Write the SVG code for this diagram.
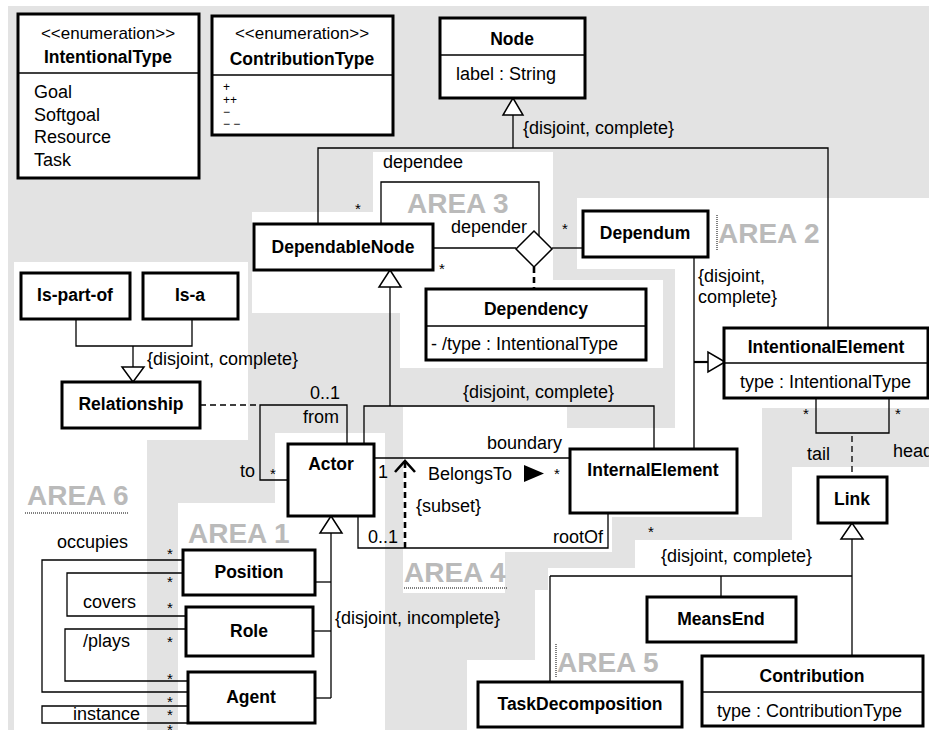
<svg xmlns="http://www.w3.org/2000/svg" width="929" height="730" viewBox="0 0 929 730">
<style>
text{font-family:"Liberation Sans",Arial,sans-serif;font-size:18px;fill:#000}
.b{font-weight:bold;font-size:17.5px}
.c{text-anchor:middle}
.st{font-size:15px;text-anchor:middle}
.area{font-weight:bold;font-size:28px;fill:#bababa}
.box{fill:#fff;stroke:#000;stroke-width:3}
.div{stroke:#000;stroke-width:1.3;fill:none}
.ln{stroke:#000;stroke-width:1.3;fill:none}
.dash{stroke:#000;stroke-width:1.3;fill:none;stroke-dasharray:6,4}
.tdash{stroke:#000;stroke-width:2.6;fill:none;stroke-dasharray:6,4}
.gen{fill:#fff;stroke:#000;stroke-width:1.5}
.dot{stroke:#000;stroke-width:1;stroke-dasharray:1,1;fill:none}
.sm{font-size:12px}
</style>
<g id="background">
<rect x="0" y="0" width="929" height="730" fill="#fff"/>
<rect x="8" y="6" width="921" height="724" fill="#e3e3e3"/>
<polygon fill="#fff" points="14,262 248,262 248,440 147,440 147,730 14,730"/>
<polygon fill="#fff" points="275,433 385,433 385,730 178,730 178,503 275,503"/>
<polygon fill="#fff" points="403,407 567,407 567,428 762,428 762,517 612,517 612,552 505,552 505,593 403,593"/>
<polygon fill="#fff" points="792,467 929,467 929,730 467,730 467,660 535,660 535,590 548,590 548,568 635,568 635,540 792,540"/>
<polygon fill="#fff" points="373,152 553,152 553,280 663,280 663,368 400,368 400,313 252,313 252,212 373,212"/>
<polygon fill="#fff" points="577,198 929,198 929,408 762,408 762,428 675,428 675,269 577,269"/>
</g>
<g id="area-labels">
<text class="area" x="407" y="213">AREA 3</text>
<text class="area" x="718" y="243">AREA 2</text>
<text class="area" x="27" y="505">AREA 6</text>
<text class="area" x="188" y="543">AREA 1</text>
<text class="area" x="404" y="582">AREA 4</text>
<text class="area" x="557" y="672">AREA 5</text>
<line class="dot" x1="25" y1="513" x2="129" y2="513"/>
<line class="dot" x1="404" y1="588" x2="508" y2="588"/>
<line class="dot" x1="717" y1="215" x2="717" y2="250"/>
<line class="dot" x1="556" y1="644" x2="556" y2="677"/>
</g>
<g id="connectors">
<line class="ln" x1="513" y1="115" x2="513" y2="148"/>
<polyline class="ln" points="318,224 318,148 828,148 828,328"/>
<polyline class="ln" points="381,224 381,182 539,182 539,236"/>
<line class="ln" x1="433" y1="248" x2="516" y2="248"/>
<line class="ln" x1="552" y1="248" x2="583" y2="248"/>
<line class="tdash" x1="534" y1="267" x2="534" y2="289"/>
<line class="ln" x1="390" y1="287" x2="390" y2="406"/>
<polyline class="ln" points="364,444 364,406 654,406 654,449"/>
<line class="ln" x1="694" y1="257" x2="694" y2="449"/>
<line stroke="#000" stroke-width="2.2" x1="694" y1="362" x2="708" y2="362"/>
<polyline class="ln" points="816,398 816,433 889,433 889,398"/>
<line class="dash" x1="852" y1="436" x2="852" y2="477"/>
<line class="ln" x1="852" y1="539" x2="852" y2="656"/>
<line class="ln" x1="550" y1="576" x2="852" y2="576"/>
<line class="ln" x1="550" y1="576" x2="550" y2="682"/>
<line class="ln" x1="721" y1="576" x2="721" y2="597"/>
<polyline class="ln" points="76,319 76,346 192,346 192,319"/>
<line class="ln" x1="133" y1="346" x2="133" y2="367"/>
<line class="dash" x1="200" y1="405" x2="260" y2="405"/>
<polyline class="ln" points="347,444 347,405 260,405 260,480 288,480"/>
<line class="ln" x1="374" y1="458" x2="570" y2="458"/>
<polyline class="ln" points="358,516 358,548 608,548 608,513"/>
<line class="tdash" x1="405" y1="548" x2="405" y2="463"/>
<polyline fill="none" stroke="#000" stroke-width="2.6" points="395,472 405,461 415,472"/>
<polygon fill="#000" points="524,465 544,473.5 524,482"/>
<line class="ln" x1="331" y1="533" x2="331" y2="698"/>
<line class="ln" x1="315" y1="582" x2="331" y2="582"/>
<line class="ln" x1="313" y1="631" x2="331" y2="631"/>
<line class="ln" x1="315" y1="698" x2="331" y2="698"/>
<polyline class="ln" points="183,560 42,560 42,692 188,692"/>
<polyline class="ln" points="183,573 67,573 67,616 186,616"/>
<polyline class="ln" points="186,629 65,629 65,681 188,681"/>
<polyline class="ln" points="188,706 42,706 42,723 188,723"/>
<polygon class="gen" points="513,98 503,115 523,115"/>
<polygon class="gen" points="390,270 379,287 401,287"/>
<polygon class="gen" points="725,362 708,352 708,372"/>
<polygon class="gen" points="852,523 841,539 863,539"/>
<polygon class="gen" points="133,382 122,367 144,367"/>
<polygon class="gen" points="331,516 320,533 342,533"/>
<polygon fill="#fff" stroke="#000" stroke-width="1.5" points="534,231 552,249 534,267 516,249"/>
</g>
<g id="labels">
<text x="523" y="134">{disjoint, complete}</text>
<text x="383" y="168">dependee</text>
<text x="451" y="233">depender</text>
<text class="st" x="358" y="214">*</text>
<text class="st" x="442" y="274">*</text>
<text class="st" x="565" y="234">*</text>
<text x="698" y="282">{disjoint,</text>
<text x="698" y="303">complete}</text>
<text x="463" y="398">{disjoint, complete}</text>
<text class="st" x="806" y="419">*</text>
<text class="st" x="898" y="419">*</text>
<text x="807" y="460">tail</text>
<text x="893" y="457">head</text>
<text x="147" y="365">{disjoint, complete}</text>
<text x="310" y="399">0..1</text>
<text x="303" y="423">from</text>
<text x="240" y="477">to</text>
<text class="st" x="273" y="479">*</text>
<text x="378" y="478">1</text>
<text x="487" y="449">boundary</text>
<text x="428" y="480">BelongsTo</text>
<text class="st" x="557" y="479">*</text>
<text x="416" y="512">{subset}</text>
<text x="368" y="543">0..1</text>
<text x="553" y="543">rootOf</text>
<text class="st" x="651" y="537">*</text>
<text x="661" y="562">{disjoint, complete}</text>
<text x="335" y="624">{disjoint, incomplete}</text>
<text x="57" y="548">occupies</text>
<text x="83" y="608">covers</text>
<text x="83" y="647">/plays</text>
<text x="73" y="720">instance</text>
<text class="st" x="170" y="559">*</text>
<text class="st" x="170" y="587">*</text>
<text class="st" x="170" y="613">*</text>
<text class="st" x="170" y="647">*</text>
<text class="st" x="170" y="684">*</text>
<text class="st" x="170" y="707">*</text>
<text class="st" x="170" y="720">*</text>
<text class="st" x="170" y="735">*</text>
</g>
<g id="IntentionalType">
<rect class="box" x="18" y="14" width="181" height="164"/>
<line class="div" x1="18" y1="73" x2="199" y2="73"/>
<text class="c" x="108" y="39" style="font-size:17px">&lt;&lt;enumeration&gt;&gt;</text>
<text class="b c" x="108" y="63">IntentionalType</text>
<text x="34" y="98">Goal</text>
<text x="34" y="121">Softgoal</text>
<text x="34" y="143">Resource</text>
<text x="34" y="166">Task</text>
</g>
<g id="ContributionType">
<rect class="box" x="212" y="16" width="181" height="119"/>
<line class="div" x1="212" y1="75" x2="393" y2="75"/>
<text class="c" x="302" y="39" style="font-size:17px">&lt;&lt;enumeration&gt;&gt;</text>
<text class="b c" x="302" y="65">ContributionType</text>
<text class="sm" x="223" y="91">+</text>
<text class="sm" x="223" y="104">++</text>
<text class="sm" x="223" y="116">−</text>
<text class="sm" x="223" y="128">− −</text>
</g>
<g id="Node">
<rect class="box" x="440" y="18" width="145" height="80"/>
<line class="div" x1="440" y1="55" x2="585" y2="55"/>
<text class="b c" x="512" y="45">Node</text>
<text x="456" y="80">label : String</text>
</g>
<g id="DependableNode">
<rect class="box" x="254" y="224" width="179" height="46"/>
<text class="b c" x="343" y="253">DependableNode</text>
</g>
<g id="Dependum">
<rect class="box" x="583" y="211" width="125" height="46"/>
<text class="b c" x="645" y="239">Dependum</text>
</g>
<g id="Dependency">
<rect class="box" x="426" y="289" width="220" height="71"/>
<line class="div" x1="426" y1="326" x2="646" y2="326"/>
<text class="b c" x="536" y="315">Dependency</text>
<text x="431" y="350">- /type : IntentionalType</text>
</g>
<g id="IntentionalElement">
<rect class="box" x="724" y="328" width="204" height="70"/>
<line class="div" x1="724" y1="363" x2="928" y2="363"/>
<text class="b c" x="826" y="353">IntentionalElement</text>
<text x="740" y="388">type : IntentionalType</text>
</g>
<g id="Is-part-of">
<rect class="box" x="21" y="273" width="109" height="46"/>
<text class="b c" x="75" y="301">Is-part-of</text>
</g>
<g id="Is-a">
<rect class="box" x="143" y="273" width="95" height="46"/>
<text class="b c" x="190" y="301">Is-a</text>
</g>
<g id="Relationship">
<rect class="box" x="62" y="382" width="138" height="46"/>
<text class="b c" x="131" y="410">Relationship</text>
</g>
<g id="Actor">
<rect class="box" x="288" y="444" width="86" height="72"/>
<text class="b c" x="331" y="470">Actor</text>
</g>
<g id="InternalElement">
<rect class="box" x="570" y="449" width="167" height="64"/>
<text class="b c" x="653" y="476">InternalElement</text>
</g>
<g id="Link">
<rect class="box" x="818" y="477" width="69" height="46"/>
<text class="b c" x="852" y="505">Link</text>
</g>
<g id="Position">
<rect class="box" x="183" y="550" width="132" height="45"/>
<text class="b c" x="249" y="578">Position</text>
</g>
<g id="Role">
<rect class="box" x="186" y="607" width="127" height="49"/>
<text class="b c" x="249" y="637">Role</text>
</g>
<g id="Agent">
<rect class="box" x="188" y="672" width="127" height="51"/>
<text class="b c" x="251" y="703">Agent</text>
</g>
<g id="MeansEnd">
<rect class="box" x="647" y="597" width="149" height="45"/>
<text class="b c" x="721" y="625">MeansEnd</text>
</g>
<g id="TaskDecomposition">
<rect class="box" x="478" y="682" width="204" height="45"/>
<text class="b c" x="580" y="710">TaskDecomposition</text>
</g>
<g id="Contribution">
<rect class="box" x="702" y="656" width="221" height="70"/>
<line class="div" x1="702" y1="692" x2="923" y2="692"/>
<text class="b c" x="812" y="682">Contribution</text>
<text x="717" y="717">type : ContributionType</text>
</g>
</svg>
